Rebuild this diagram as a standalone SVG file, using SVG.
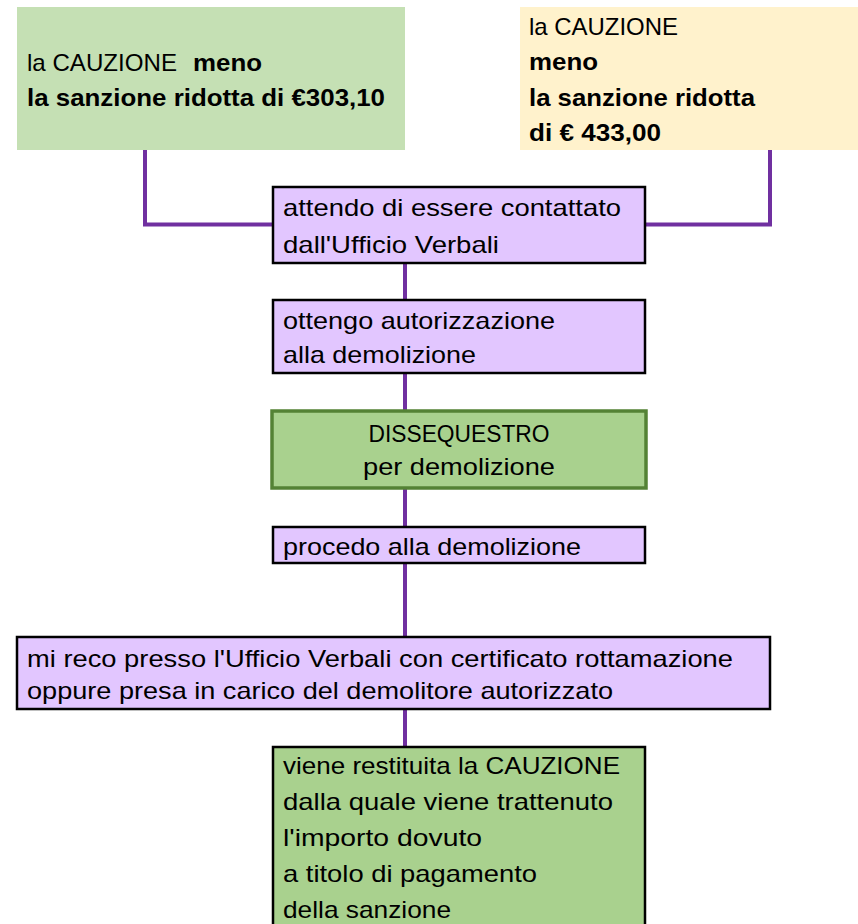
<svg xmlns="http://www.w3.org/2000/svg" width="858" height="924" viewBox="0 0 858 924">
<style>
text{font-family:"Liberation Sans",Arial,sans-serif;font-size:24px;fill:#000}
.b{font-weight:bold}
.conn{fill:none;stroke:#7030a0;stroke-width:4}
.purple{fill:#e2c6ff;stroke:#000;stroke-width:2.5}
.green{fill:#a9d18e;stroke:#000;stroke-width:2.5}
</style>
<rect width="858" height="924" fill="#fff"/>
<g id="connectors">
<path class="conn" d="M145 150V224.5H273"/>
<path class="conn" d="M770 150V224.5H645"/>
<path class="conn" d="M405 263V300"/>
<path class="conn" d="M405 373V411"/>
<path class="conn" d="M405 488V527"/>
<path class="conn" d="M405 563V637"/>
<path class="conn" d="M405 709V747"/>
</g>
<g id="cauzione-303">
<rect x="17" y="7" width="388" height="143" fill="#c5e0b4"/>
<text x="27" y="71" textLength="150" lengthAdjust="spacingAndGlyphs">la CAUZIONE</text>
<text class="b" x="193" y="71" textLength="69" lengthAdjust="spacingAndGlyphs">meno</text>
<text class="b" x="27" y="106" textLength="358" lengthAdjust="spacingAndGlyphs">la sanzione ridotta di €303,10</text>
</g>
<g id="cauzione-433">
<rect x="520" y="7" width="338" height="143" fill="#fff2cc"/>
<text x="529" y="35" textLength="149" lengthAdjust="spacingAndGlyphs">la CAUZIONE</text>
<text class="b" x="529" y="70" textLength="69" lengthAdjust="spacingAndGlyphs">meno</text>
<text class="b" x="529" y="106" textLength="226" lengthAdjust="spacingAndGlyphs">la sanzione ridotta</text>
<text class="b" x="529" y="141" textLength="132" lengthAdjust="spacingAndGlyphs">di € 433,00</text>
</g>
<g id="attendo">
<rect class="purple" x="273" y="187" width="372" height="76"/>
<text x="283" y="216" textLength="338" lengthAdjust="spacingAndGlyphs">attendo di essere contattato</text>
<text x="283" y="253" textLength="216" lengthAdjust="spacingAndGlyphs">dall'Ufficio Verbali</text>
</g>
<g id="ottengo">
<rect class="purple" x="273" y="300" width="372" height="73"/>
<text x="283" y="329" textLength="272" lengthAdjust="spacingAndGlyphs">ottengo autorizzazione</text>
<text x="283" y="363" textLength="193" lengthAdjust="spacingAndGlyphs">alla demolizione</text>
</g>
<g id="dissequestro">
<rect x="272" y="411" width="374" height="77" fill="#a9d18e" stroke="#548235" stroke-width="3.5"/>
<text x="459" y="442" text-anchor="middle" textLength="181" lengthAdjust="spacingAndGlyphs">DISSEQUESTRO</text>
<text x="459" y="475" text-anchor="middle" textLength="192" lengthAdjust="spacingAndGlyphs">per demolizione</text>
</g>
<g id="procedo">
<rect class="purple" x="273" y="527" width="372" height="36"/>
<text x="283" y="555" textLength="298" lengthAdjust="spacingAndGlyphs">procedo alla demolizione</text>
</g>
<g id="mi-reco">
<rect class="purple" x="17" y="637" width="753" height="72"/>
<text x="27" y="667" textLength="706" lengthAdjust="spacingAndGlyphs">mi reco presso l'Ufficio Verbali con certificato rottamazione</text>
<text x="27" y="699" textLength="586" lengthAdjust="spacingAndGlyphs">oppure presa in carico del demolitore autorizzato</text>
</g>
<g id="restituita">
<rect class="green" x="273" y="747" width="372" height="190"/>
<text x="283" y="774" textLength="337" lengthAdjust="spacingAndGlyphs">viene restituita la CAUZIONE</text>
<text x="283" y="810" textLength="330" lengthAdjust="spacingAndGlyphs">dalla quale viene trattenuto</text>
<text x="283" y="846" textLength="199" lengthAdjust="spacingAndGlyphs">l'importo dovuto</text>
<text x="283" y="882" textLength="254" lengthAdjust="spacingAndGlyphs">a titolo di pagamento</text>
<text x="283" y="918" textLength="168" lengthAdjust="spacingAndGlyphs">della sanzione</text>
</g>
</svg>
